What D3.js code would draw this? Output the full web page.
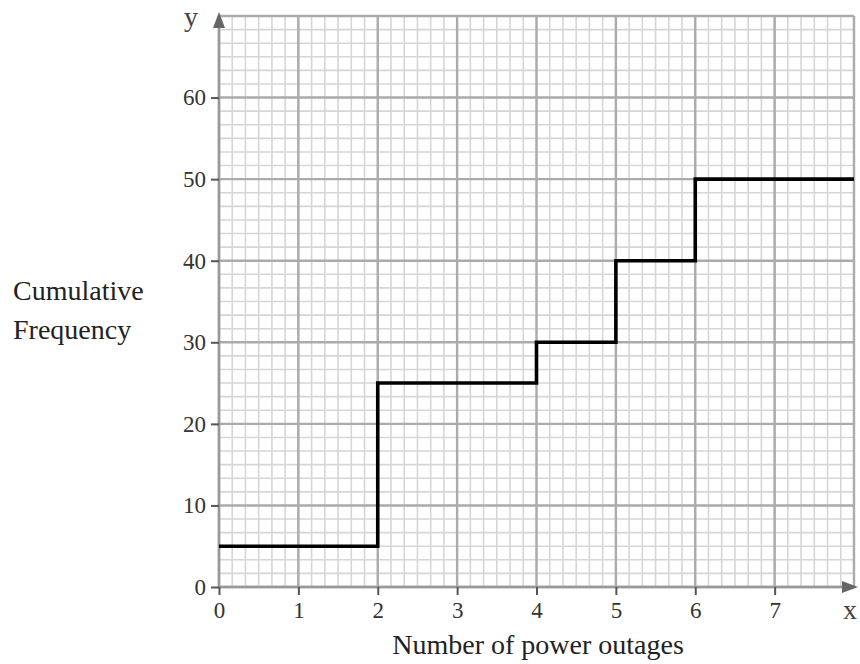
<!DOCTYPE html>
<html><head><meta charset="utf-8">
<script src="https://cdn.jsdelivr.net/npm/d3@7"></script>
<style>body{margin:0;background:#fff;} svg{display:block;}</style>
</head><body>
<svg id="chart" width="860" height="664"></svg>
<script>
const stepX = [0, 2, 4, 5, 6, 8];
const stepY = [5, 25, 30, 40, 50, 50];
const xTicks = [0, 1, 2, 3, 4, 5, 6, 7];
const yTicks = [0, 10, 20, 30, 40, 50, 60];
const xLabel = "Number of power outages";
const yLabelLines = ["Cumulative", "Frequency"];

const svg = d3.select("#chart");
const x = d3.scaleLinear().domain([0, 8]).range([219, 854]);
const y = d3.scaleLinear().domain([0, 70]).range([587, 16]);
const font = "'Liberation Serif', 'Times New Roman', serif";

const g = svg.append("g");
// minor grid: 6 per major
const xMinor = d3.range(0, 8 * 6 + 1).map(i => i / 6);
const yMinor = d3.range(0, 7 * 6 + 1).map(i => i * 10 / 6);
g.selectAll(".vmin").data(xMinor).join("line")
  .attr("x1", d => x(d)).attr("x2", d => x(d)).attr("y1", y(0)).attr("y2", y(70))
  .attr("stroke", "#d6d6d6").attr("stroke-width", 1.6);
g.selectAll(".hmin").data(yMinor).join("line")
  .attr("y1", d => y(d)).attr("y2", d => y(d)).attr("x1", x(0)).attr("x2", x(8))
  .attr("stroke", "#d6d6d6").attr("stroke-width", 1.6);
// major grid
g.selectAll(".vmaj").data(d3.range(0, 9)).join("line")
  .attr("x1", d => x(d)).attr("x2", d => x(d)).attr("y1", y(0)).attr("y2", y(70))
  .attr("stroke", "#ababab").attr("stroke-width", 2.4);
g.selectAll(".hmaj").data(d3.range(0, 71, 10)).join("line")
  .attr("y1", d => y(d)).attr("y2", d => y(d)).attr("x1", x(0)).attr("x2", x(8))
  .attr("stroke", "#ababab").attr("stroke-width", 2.4);

// axes lines
g.append("line").attr("x1", x(0)).attr("x2", x(8)).attr("y1", y(0)).attr("y2", y(0))
  .attr("stroke", "#999").attr("stroke-width", 2.5);
g.append("line").attr("x1", x(0)).attr("x2", x(0)).attr("y1", y(0)).attr("y2", y(70))
  .attr("stroke", "#999").attr("stroke-width", 2.5);

// arrows
g.append("path").attr("d", `M${x(0)-6},${y(70)+12} L${x(0)},${y(70)-4} L${x(0)+6},${y(70)+12} Z`).attr("fill", "#666");
g.append("path").attr("d", `M${x(8)-12},${y(0)-6} L${x(8)+4},${y(0)} L${x(8)-12},${y(0)+6} Z`).attr("fill", "#666");

// ticks via d3 axes
const xAxis = d3.axisBottom(x).tickValues(xTicks).tickSize(8).tickPadding(7).tickFormat(d3.format("d"));
const yAxis = d3.axisLeft(y).tickValues(yTicks).tickSize(8).tickPadding(5).tickFormat(d3.format("d"));
const xa = svg.append("g").attr("transform", `translate(0,${y(0)})`).call(xAxis);
const ya = svg.append("g").attr("transform", `translate(${x(0)},0)`).call(yAxis);
[xa, ya].forEach(a => {
  a.select(".domain").remove();
  a.selectAll(".tick line").attr("stroke", "#555").attr("stroke-width", 2);
  a.selectAll(".tick text").attr("font-family", font).attr("font-size", 23).attr("fill", "#333");
});

// step line
const line = d3.line().x((d, i) => x(stepX[i])).y((d, i) => y(stepY[i])).curve(d3.curveStepAfter);
svg.append("path").datum(stepX).attr("d", line).attr("fill", "none")
  .attr("stroke", "#000").attr("stroke-width", 3.6);

// labels
svg.append("text").attr("x", 184).attr("y", 26).text("y")
  .attr("font-family", font).attr("font-size", 28).attr("fill", "#444");
svg.append("text").attr("x", 843).attr("y", 619).text("x")
  .attr("font-family", font).attr("font-size", 28).attr("fill", "#444");
svg.append("text").attr("x", 538).attr("y", 654).attr("text-anchor", "middle").text(xLabel)
  .attr("font-family", font).attr("font-size", 28).attr("fill", "#222");
svg.selectAll(".yl").data(yLabelLines).join("text")
  .attr("x", 13).attr("y", (d, i) => 300 + i * 39).text(d => d)
  .attr("font-family", font).attr("font-size", 28).attr("fill", "#222");
</script>
</body></html>
